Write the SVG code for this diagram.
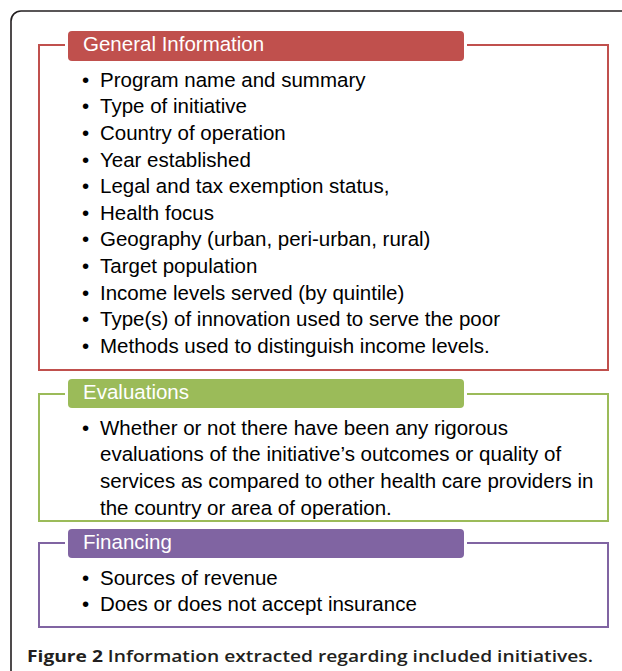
<svg xmlns="http://www.w3.org/2000/svg" width="622" height="671" viewBox="0 0 622 671">
<style>
.frame{fill:none;stroke:#231f20;stroke-width:1.6}
.box{fill:none;stroke-width:2}
.red{stroke:#c0504d}.green{stroke:#9bbb59}.purple{stroke:#8064a2}
.hred{fill:#c0504d}.hgreen{fill:#9bbb59}.hpurple{fill:#8064a2}
.ht{font-family:"Liberation Sans",Arial,sans-serif;font-size:20.5px;fill:#fff}
.bt{font-family:"Liberation Sans",Arial,sans-serif;font-size:20.5px;fill:#000}
.cap{font-family:"Open Sans","DejaVu Sans",sans-serif;font-size:15.5px;fill:#231f20;font-weight:700}
</style>
<rect width="622" height="671" fill="#fff"/>
<path class="frame" d="M11,671 V21 A10,10 0 0 1 21,11 H622"/>

<g id="general-information">
  <path class="box red" d="M65,45 H39 V370 H608 V45 H467"/>
  <rect class="hred" x="68" y="31" width="396" height="30" rx="4"/>
  <text class="ht" x="83" y="51">General Information</text>
  <g class="bt">
    <text x="82" y="86.7">•</text><text x="100" y="86.7">Program name and summary</text>
    <text x="82" y="113.3">•</text><text x="100" y="113.3">Type of initiative</text>
    <text x="82" y="139.9">•</text><text x="100" y="139.9">Country of operation</text>
    <text x="82" y="166.5">•</text><text x="100" y="166.5">Year established</text>
    <text x="82" y="193.1">•</text><text x="100" y="193.1">Legal and tax exemption status,</text>
    <text x="82" y="219.7">•</text><text x="100" y="219.7">Health focus</text>
    <text x="82" y="246.3">•</text><text x="100" y="246.3">Geography (urban, peri-urban, rural)</text>
    <text x="82" y="272.9">•</text><text x="100" y="272.9">Target population</text>
    <text x="82" y="299.5">•</text><text x="100" y="299.5">Income levels served (by quintile)</text>
    <text x="82" y="326.1">•</text><text x="100" y="326.1">Type(s) of innovation used to serve the poor</text>
    <text x="82" y="352.7">•</text><text x="100" y="352.7">Methods used to distinguish income levels.</text>
  </g>
</g>

<g id="evaluations">
  <path class="box green" d="M65,394 H39 V521 H608 V394 H467"/>
  <rect class="hgreen" x="68" y="379" width="396" height="29" rx="4"/>
  <text class="ht" x="83" y="399">Evaluations</text>
  <g class="bt">
    <text x="82" y="434.7">•</text><text x="100" y="434.7">Whether or not there have been any rigorous</text>
    <text x="100" y="461.3">evaluations of the initiative’s outcomes or quality of</text>
    <text x="100" y="487.9">services as compared to other health care providers in</text>
    <text x="100" y="514.5">the country or area of operation.</text>
  </g>
</g>

<g id="financing">
  <path class="box purple" d="M65,543 H39 V627 H608 V543 H467"/>
  <rect class="hpurple" x="68" y="529" width="396" height="29" rx="4"/>
  <text class="ht" x="83" y="549">Financing</text>
  <g class="bt">
    <text x="82" y="584.7">•</text><text x="100" y="584.7">Sources of revenue</text>
    <text x="82" y="611.3">•</text><text x="100" y="611.3">Does or does not accept insurance</text>
  </g>
</g>

<g id="caption">
  <text class="cap" x="27" y="662" textLength="566" lengthAdjust="spacingAndGlyphs">Figure 2 <tspan font-weight="600">Information extracted regarding included initiatives.</tspan></text>
</g>
</svg>
